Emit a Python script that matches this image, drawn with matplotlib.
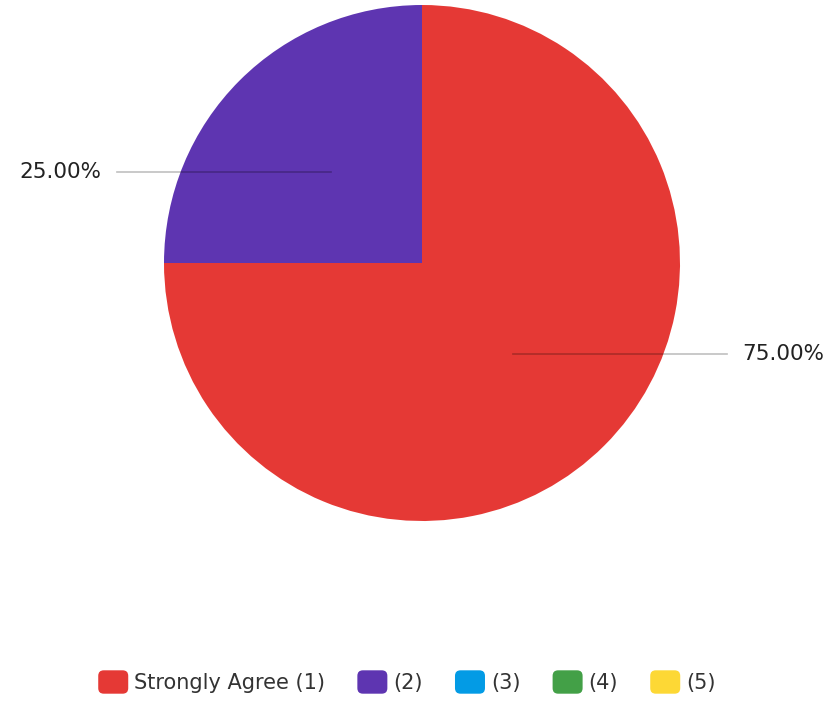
import numpy as np
import matplotlib.pyplot as plt
from matplotlib.patches import FancyBboxPatch, Patch
from matplotlib.legend_handler import HandlerPatch

plt.rcParams['font.family'] = ['DejaVu Sans']

labels = ['Strongly Agree (1)', '(2)', '(3)', '(4)', '(5)']
values = [75, 25, 0, 0, 0]
colors = ['#E53935', '#5E35B1', '#039BE5', '#43A047', '#FDD835']

W, H = 836, 701
fig = plt.figure(figsize=(W / 100, H / 100), dpi=100)
ax = fig.add_axes([0, 0, 1, 1])

cx, cy, r = 422, H - 263, 258
wedges, _ = ax.pie(values, colors=colors, startangle=90, counterclock=False,
                   center=(cx, cy), radius=r, frame=True,
                   wedgeprops=dict(linewidth=0))
ax.set_xlim(0, W)
ax.set_ylim(0, H)
ax.set_aspect('equal')
ax.axis('off')

total = sum(values)
for w, v in zip(wedges, values):
    if v == 0:
        continue
    mid = np.deg2rad((w.theta1 + w.theta2) / 2)
    x0 = cx + 0.5 * r * np.cos(mid)
    y0 = cy + 0.5 * r * np.sin(mid)
    side = 1 if np.cos(mid) > 0 else -1
    x1 = x0 + side * 214
    ax.plot([x0, x1], [y0, y0], color='black', alpha=0.25, lw=1.2)
    ax.text(x1 + side * 15, y0, f'{v / total * 100:.2f}%', fontsize=15.5,
            ha='left' if side > 0 else 'right', va='center', color='#222222')


class RoundHandler(HandlerPatch):
    def create_artists(self, legend, orig_handle, xdescent, ydescent,
                       width, height, fontsize, trans):
        p = FancyBboxPatch((-xdescent, -ydescent), width, height,
                           boxstyle='round,pad=0,rounding_size=4',
                           facecolor=orig_handle.get_facecolor(),
                           edgecolor='none', transform=trans)
        return [p]


handles = [Patch(facecolor=c, label=l) for c, l in zip(colors, labels)]
fig.legend(handles=handles, loc='center', bbox_to_anchor=(407 / W, 19 / H),
           ncol=5, frameon=False, fontsize=15, handlelength=1.44,
           handleheight=1.35, handletextpad=0.29, columnspacing=1.54,
           labelcolor='#333333',
           handler_map={Patch: RoundHandler()})

fig.savefig('out.png', dpi=100)
